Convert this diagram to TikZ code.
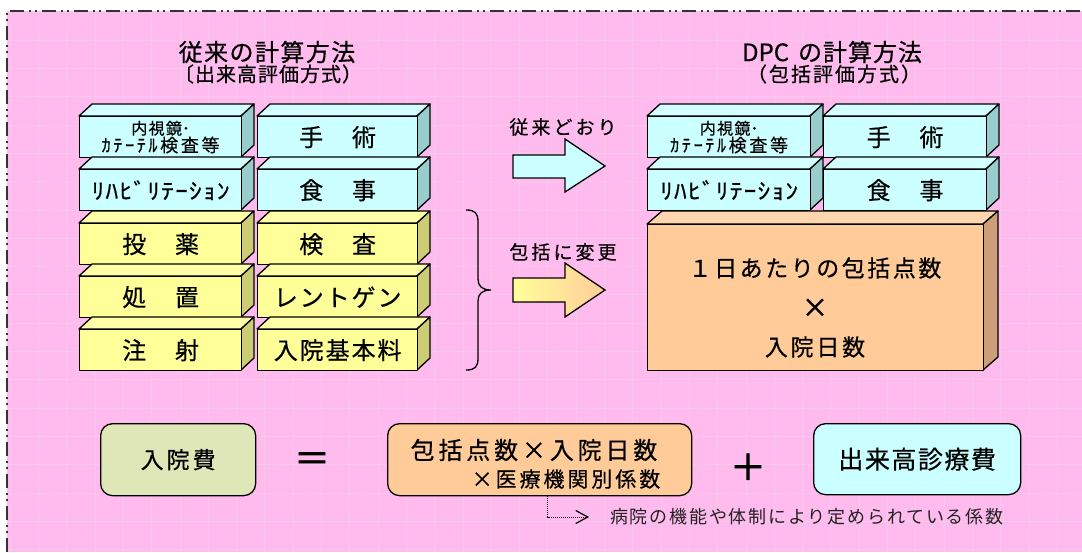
\documentclass[tikz,border=0pt]{standalone}
\usepackage{fontspec}
\usepackage{graphicx}
\setmainfont{Noto Sans CJK JP}[FakeBold=0.5]
\newfontfamily\thin{Noto Sans CJK JP}
\newfontfamily\heavy{Noto Sans CJK JP}[FakeBold=2]
\usetikzlibrary{arrows.meta}
\definecolor{bgpink}{HTML}{FFBBEE}
\definecolor{gridpink}{HTML}{F7C8EE}
\definecolor{framec}{HTML}{333333}
\definecolor{cyF}{HTML}{CCFFFF}
\definecolor{cyT}{HTML}{D4FFFF}
\definecolor{cyS}{HTML}{99CCCC}
\definecolor{yeF}{HTML}{FFFF99}
\definecolor{yeT}{HTML}{FFFFA8}
\definecolor{yeS}{HTML}{CCCC77}
\definecolor{orF}{HTML}{FFCC99}
\definecolor{orT}{HTML}{FFD6AD}
\definecolor{orS}{HTML}{CC9F7A}
\definecolor{grF}{HTML}{DFE6B8}
\definecolor{notec}{HTML}{222222}
\newcommand\fz[2]{\fontsize{#1}{#1}\selectfont\addfontfeatures{LetterSpace=#2}}
\def\dpx{13}\def\dpy{12}
\newcommand\slab[9]{%
  \filldraw[face, fill=#7] (#2,#3) -- ({#2+\dpx},{#3-\dpy}) -- ({#4+\dpx},{#3-\dpy}) -- (#4,#3) -- cycle;
  \filldraw[face, fill=#8] (#4,#3) -- ({#4+\dpx},{#3-\dpy}) -- ({#4+\dpx},{#5-\dpy}) -- (#4,#5) -- cycle;
  \node[front, fill=#6, minimum width={#4-#2}, minimum height={#5-#3}] (#1) at (#2,#3) {#9};
}
\newcommand\naishikyo{{\fz{16}{8}内視鏡}{\fz{16}{0}･}\\[0pt]{\fz{18}{15}ｶﾃｰﾃﾙ検査等}}
\newcommand\rehabtxt{\scalebox{1.15}[1]{\fz{22}{5}ﾘﾊﾋﾞﾘﾃｰｼｮﾝ}}
\tikzset{
  face/.style={draw=black, line width=1.3pt, line join=round},
  front/.style={face, inner sep=0pt, align=center, anchor=north west},
  rbox/.style={draw=black, line width=1.3pt, rounded corners=12pt, inner sep=0pt, anchor=north west, align=center},
  lbl/.style={inner sep=0pt, align=center},
  gridl/.style={draw=gridpink, line width=0.6pt},
  blockarrow/.style={draw=black, line width=1.3pt, line join=miter},
}
\begin{document}
\begin{tikzpicture}[x=1pt,y=-1pt]
\useasboundingbox (0,0) rectangle (1082,552);
% background
\fill[bgpink] (7,11) rectangle (1082,552);
\foreach \i in {0,...,38} {\draw[gridl] ({10+28.3*\i},11) -- ({10+28.3*\i},552);}
\foreach \j in {0,...,19} {\draw[gridl] (7,{11.7+28.3*\j}) -- (1082,{11.7+28.3*\j});}
\draw[framec, line width=1.8pt, dash pattern=on 14pt off 5pt on 2pt off 4pt on 2pt off 5pt] (7,552) -- (7,11) -- (1082,11);

% titles
\node[lbl, font=\fz{24}{6}] (lt1) at (267,52) {従来の計算方法};
\node[lbl, font=\fz{20}{5}] (lt2) at (268,74) {〔出来高評価方式）};
\node[lbl, font=\fz{24}{0}] (rt1) at (832,52) {DPC\hspace{9pt}{\addfontfeatures{LetterSpace=4}の計算方法}};
\node[lbl, font=\fz{20}{10}] (rt2) at (834,74) {（包括評価方式）};

% left stack
\slab{l11}{79}{116}{241}{157}{cyF}{cyT}{cyS}{\naishikyo}
\slab{l12}{257}{116}{417}{157}{cyF}{cyT}{cyS}{\fz{24}{10}手　術}
\slab{l21}{79}{169}{241}{210}{cyF}{cyT}{cyS}{\rehabtxt}
\slab{l22}{257}{169}{417}{210}{cyF}{cyT}{cyS}{\fz{24}{10}食　事}
\slab{l31}{79}{223}{241}{264}{yeF}{yeT}{yeS}{\fz{24}{10}投　薬}
\slab{l32}{257}{223}{417}{264}{yeF}{yeT}{yeS}{\fz{24}{10}検　査}
\slab{l41}{79}{276}{241}{317}{yeF}{yeT}{yeS}{\fz{24}{10}処　置}
\slab{l42}{257}{276}{417}{317}{yeF}{yeT}{yeS}{\fz{24}{8}レントゲン}
\slab{l51}{79}{329}{241}{370}{yeF}{yeT}{yeS}{\fz{24}{10}注　射}
\slab{l52}{257}{329}{417}{370}{yeF}{yeT}{yeS}{\fz{24}{8}入院基本料}

% brace
\draw[line width=1.3pt] (466,210) .. controls (475,210) and (478,213) .. (478,222) -- (478,279)
  .. controls (478,286) and (482,290) .. (491,290) .. controls (482,290) and (478,294) .. (478,301)
  -- (478,358) .. controls (478,367) and (475,370) .. (466,370);

% arrows
\node[lbl, font=\fz{19}{16}] (a1lbl) at (563,127) {従来どおり};
\filldraw[blockarrow, fill=cyF] (513,155) -- (565,155) -- (565,139) -- (605,166) -- (565,192) -- (565,178) -- (513,178) -- cycle;
\node[lbl, font=\fz{19}{16}] (a2lbl) at (563,252) {包括に変更};
\filldraw[blockarrow, left color=yeF, right color=orF] (513,278) -- (565,278) -- (565,263) -- (605,290) -- (565,317) -- (565,302) -- (513,302) -- cycle;

% right stack
\slab{r11}{647}{116}{810}{157}{cyF}{cyT}{cyS}{\naishikyo}
\slab{r12}{823}{116}{986}{157}{cyF}{cyT}{cyS}{\fz{24}{10}手　術}
\slab{r21}{647}{169}{810}{210}{cyF}{cyT}{cyS}{\rehabtxt}
\slab{r22}{823}{169}{986}{210}{cyF}{cyT}{cyS}{\fz{24}{10}食　事}
\def\dpx{15}\def\dpy{13}
\slab{big}{647}{224}{983}{370}{orF}{orT}{orS}{}
\node[lbl, font=\fz{23}{11}] (b1) at (815,268) {１日あたりの包括点数};
\node[lbl, font=\heavy\fontsize{26}{26}\selectfont] (b2) at (815,308) {×};
\node[lbl, font=\fz{23}{12}] (b3) at (815,347) {入院日数};

% bottom formula
\node[rbox, fill=grF, minimum width=155, minimum height=72, font=\fz{23}{13}] (cost) at (100,423) {入院費};
\node[lbl, font=\heavy\fontsize{36}{36}\selectfont] (eq) at (312,462) {＝};
\node[rbox, fill=orF, minimum width=304, minimum height=72] (pkg) at (387,423) {};
\node[lbl, font=\fz{24}{16}] (pkg1) at (534,450) {包括点数×入院日数};
\node[lbl, font=\fz{21}{14}] (pkg2) at (566,479) {×医療機関別係数};
\node[lbl, font=\heavy\fontsize{36}{36}\selectfont] (plus) at (748,467) {＋};
\node[rbox, fill=cyF, minimum width=207, minimum height=71, font=\fz{25}{6}] (ext) at (813,423) {出来高診療費};

% note
\node[lbl, anchor=west, text=notec, font={\thin\fontsize{18}{18}\selectfont\addfontfeatures{LetterSpace=10}}] (note) at (610,517) {病院の機能や体制により定められている係数};
\coordinate (ax) at (547.5,0);
\draw[densely dotted, line width=1pt, shorten >=21pt, -{Straight Barb[length=12pt,width=13pt,line width=1.2pt]}] (pkg.south -| ax) |- (note.west);
\end{tikzpicture}
\end{document}
